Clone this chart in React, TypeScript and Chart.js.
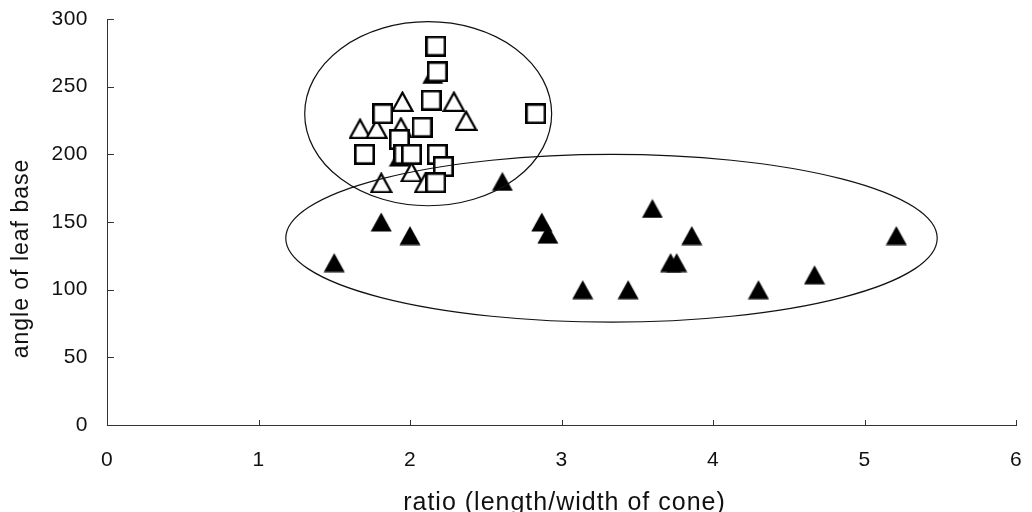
import React, { useEffect, useRef } from "react";
import { Chart, registerables } from "chart.js";

Chart.register(...registerables);

// ---------- data ----------
const xTickValues = [0, 1, 2, 3, 4, 5, 6];
const yTickValues = [0, 50, 100, 150, 200, 250, 300];
const xAxisTitle = "ratio (length/width of cone)";
const yAxisTitle = "angle of leaf base";

// filled triangles
const filledTriX = [1.5, 1.81, 2.0, 2.61, 2.87, 2.91, 3.14, 3.44, 3.6, 3.86, 3.72, 3.76, 4.3, 4.67, 5.21, 2.15, 1.93];
const filledTriY = [120, 150, 140, 180, 150, 141, 100, 100, 160, 140, 120, 120, 100, 111, 140, 259, 198];

// open triangles
const openTriX = [1.95, 2.29, 2.37, 1.67, 1.78, 1.94, 2.01, 1.81, 2.1];
const openTriY = [239, 239, 225, 219, 219, 220, 187, 179, 179];

// open squares
const squareX = [2.17, 2.18, 2.14, 1.82, 2.83, 2.08, 1.93, 1.7, 1.96, 2.01, 2.18, 2.22, 2.17];
const squareY = [280, 261, 240, 230, 230, 220, 211, 200, 200, 200, 200, 191, 179];

// ellipses (data units): centre x, centre y, radius x, radius y
const ellipseCx = [2.12, 3.33];
const ellipseCy = [230, 138];
const ellipseRx = [0.815, 2.15];
const ellipseRy = [68, 62];

// ---------- markers ----------
function makeTriangle(filled: boolean): HTMLCanvasElement {
  const c = document.createElement("canvas");
  const w = filled ? 22 : 23;
  const h = filled ? 20 : 21;
  c.width = w;
  c.height = h;
  const ctx = c.getContext("2d")!;
  ctx.beginPath();
  if (filled) {
    ctx.moveTo(w / 2, 0.5);
    ctx.lineTo(w - 0.5, h - 0.5);
    ctx.lineTo(0.5, h - 0.5);
    ctx.closePath();
    ctx.fillStyle = "#000";
    ctx.fill();
  } else {
    ctx.moveTo(w / 2, 1.6);
    ctx.lineTo(w - 1.4, h - 1.1);
    ctx.lineTo(1.4, h - 1.1);
    ctx.closePath();
    ctx.fillStyle = "#fff";
    ctx.fill();
    ctx.lineWidth = 2.2;
    ctx.lineJoin = "miter";
    ctx.strokeStyle = "#000";
    ctx.stroke();
  }
  return c;
}

function makeSquare(): HTMLCanvasElement {
  const c = document.createElement("canvas");
  c.width = 21;
  c.height = 21;
  const ctx = c.getContext("2d")!;
  ctx.fillStyle = "#fff";
  ctx.fillRect(1.3, 1.3, 18.4, 18.4);
  ctx.lineWidth = 2.6;
  ctx.strokeStyle = "#000";
  ctx.strokeRect(1.3, 1.3, 18.4, 18.4);
  return c;
}

const zip = (xs: number[], ys: number[]) => xs.map((x, i) => ({ x, y: ys[i] }));

const FONT = "'Liberation Sans', Arial, Helvetica, sans-serif";

export default function App() {
  const ref = useRef<HTMLCanvasElement | null>(null);

  useEffect(() => {
    if (!ref.current) return;

    const decorPlugin = {
      id: "decor",
      beforeDraw(chart: any) {
        chart.ctx.letterSpacing = "0.5px";
      },
      afterDatasetsDraw(chart: any) {
        const { ctx, scales } = chart;
        const xs = scales.x;
        const ys = scales.y;
        ctx.save();
        ctx.strokeStyle = "#111";
        ctx.lineWidth = 1.2;
        for (let i = 0; i < ellipseCx.length; i++) {
          const cx = xs.getPixelForValue(ellipseCx[i]);
          const cy = ys.getPixelForValue(ellipseCy[i]);
          const rx = xs.getPixelForValue(ellipseCx[i] + ellipseRx[i]) - cx;
          const ry = cy - ys.getPixelForValue(ellipseCy[i] + ellipseRy[i]);
          ctx.beginPath();
          ctx.ellipse(cx, cy, rx, ry, 0, 0, Math.PI * 2);
          ctx.stroke();
        }
        ctx.restore();
      },
      afterDraw(chart: any) {
        const { ctx, scales, chartArea } = chart;
        const xs = scales.x;
        const ys = scales.y;
        ctx.save();
        ctx.strokeStyle = "#333";
        ctx.lineWidth = 1;
        ctx.beginPath();
        for (const v of yTickValues) {
          const y = Math.round(ys.getPixelForValue(v)) + 0.5;
          ctx.moveTo(chartArea.left, y);
          ctx.lineTo(chartArea.left + 7, y);
        }
        for (const v of xTickValues) {
          const x = Math.round(xs.getPixelForValue(v)) + 0.5;
          ctx.moveTo(x, chartArea.bottom);
          ctx.lineTo(x, chartArea.bottom - 5);
        }
        ctx.stroke();
        ctx.restore();

        // axis titles
        ctx.save();
        ctx.fillStyle = "#111";
        ctx.letterSpacing = "1px";
        ctx.textAlign = "center";
        ctx.textBaseline = "alphabetic";
        ctx.font = `25px ${FONT}`;
        ctx.fillText(xAxisTitle, (chartArea.left + chartArea.right) / 2 + 3, 510);
        ctx.translate(28, ys.getPixelForValue(123));
        ctx.rotate(-Math.PI / 2);
        ctx.font = `23px ${FONT}`;
        ctx.fillText(yAxisTitle, 0, 0);
        ctx.restore();
      },
    };

    const chart = new Chart(ref.current, {
      type: "scatter",
      data: {
        datasets: [
          {
            label: "squares",
            data: zip(squareX, squareY),
            pointStyle: makeSquare() as any,
            pointRadius: 10,
            pointHoverRadius: 10,
          },
          {
            label: "open triangles",
            data: zip(openTriX, openTriY),
            pointStyle: makeTriangle(false) as any,
            pointRadius: 10,
            pointHoverRadius: 10,
          },
          {
            label: "filled triangles",
            data: zip(filledTriX, filledTriY),
            pointStyle: makeTriangle(true) as any,
            pointRadius: 10,
            pointHoverRadius: 10,
          },
        ],
      },
      options: {
        responsive: false,
        animation: false,
        events: [],
        layout: { padding: { left: 0, top: 19, right: 16, bottom: 0 } },
        plugins: { legend: { display: false }, tooltip: { enabled: false } },
        scales: {
          x: {
            type: "linear",
            min: 0,
            max: 6,
            afterFit: (s: any) => {
              s.height = 87;
              s.paddingLeft = 0;
              s.paddingRight = 0;
            },
            afterBuildTicks: (s: any) => {
              s.ticks = xTickValues.map((v) => ({ value: v }));
            },
            grid: { display: false, drawTicks: false },
            border: { display: true, color: "#333", width: 1 },
            ticks: {
              color: "#111",
              padding: 23,
              font: { family: FONT, size: 21 },
              maxRotation: 0,
            },
            title: { display: false },
          },
          y: {
            type: "linear",
            min: 0,
            max: 300,
            afterFit: (s: any) => {
              s.width = 107;
              s.paddingTop = 0;
              s.paddingBottom = 0;
            },
            afterBuildTicks: (s: any) => {
              s.ticks = yTickValues.map((v) => ({ value: v }));
            },
            grid: { display: false, drawTicks: false },
            border: { display: true, color: "#333", width: 1 },
            ticks: {
              color: "#111",
              padding: 19,
              font: { family: FONT, size: 21 },
            },
            title: { display: false },
          },
        },
      },
      plugins: [decorPlugin],
    });

    return () => chart.destroy();
  }, []);

  return (
    <div style={{ position: "absolute", left: 0, top: 0, width: 1032, height: 512, background: "#fff" }}>
      <canvas ref={ref} width={1032} height={512} style={{ display: "block" }} />
    </div>
  );
}
